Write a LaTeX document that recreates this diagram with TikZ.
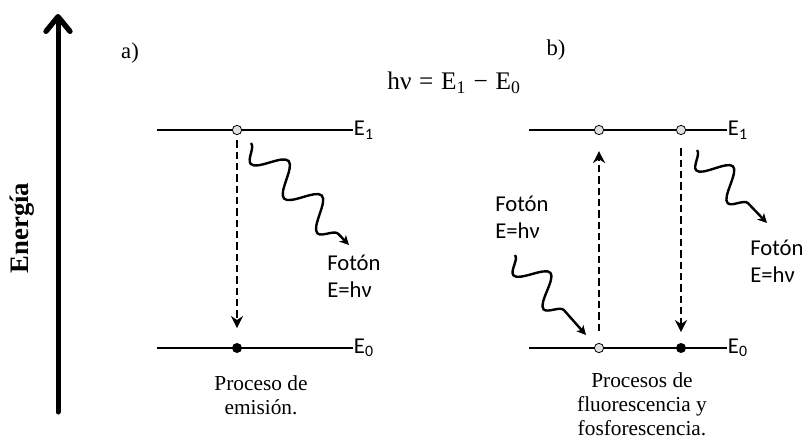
\documentclass[tikz,border=0pt]{standalone}
\usepackage{fontspec}
\setmainfont{Liberation Serif}
\newfontfamily\calibri{Carlito}
\usetikzlibrary{arrows.meta, decorations.pathmorphing}

\begin{document}
\begin{tikzpicture}[
    x=0.75pt, y=-0.75pt,
    font=\fontsize{17}{20}\selectfont,
    level/.style={draw=black, line width=1.4pt},
    levellabel/.style={
        anchor=west, inner sep=0pt,
        font=\calibri\fontsize{17}{20}\selectfont
    },
    hole/.style={
        circle, draw=black, fill=black!12, line width=0.6pt,
        minimum size=7pt, inner sep=0pt
    },
    electron/.style={circle, fill=black, minimum size=7.5pt, inner sep=0pt},
    jump/.style={
        line width=2.1pt, dash pattern=on 5.5pt off 3pt,
        -{Stealth[length=9pt,width=9pt]}
    },
    photon/.style={
        line width=1.8pt, decorate,
        decoration={snake, mirror, segment length=#1, amplitude=11pt, post length=8pt},
        -{Stealth[length=7pt,width=7pt,inset=2pt]}
    },
    photontext/.style={
        anchor=west, align=left, inner sep=0pt,
        font=\calibri\fontsize{17}{20.5}\selectfont
    },
    caption/.style={align=center, font=\fontsize{16}{18}\selectfont}
]

% ---- Page frame (same proportions as the reference) ----
\useasboundingbox (0,0) rectangle (807,439);

% ---- Energy axis ----
\coordinate (ebot) at (58,412);
\coordinate (etop) at (58,14);
\draw[line width=3.75pt, line cap=round, -{Straight Barb[length=11pt,width=18pt,round,line width=4pt]}] (ebot) -- (etop);
\node[rotate=90, font=\fontsize{20}{22}\selectfont\bfseries] (energy) at (22,228) {Energía};

% ---- Panel labels and relation ----
\node (pa) at (130,53) {a)};
\node (pb) at (556,50) {b)};
\node[font=\fontsize{19}{22}\selectfont] (rel) at (454,83)
     {hν\hspace{0.3em}=\hspace{0.3em}E\textsubscript{1}\hspace{0.3em}−\hspace{0.3em}E\textsubscript{0}};

% ---- a) emission: levels ----
\coordinate (aL1) at (157,130);
\coordinate (aR1) at (353,130);
\coordinate (aL0) at (157,348);
\coordinate (aR0) at (353,348);
\draw[level] (aL1) -- (aR1) node[levellabel] (aE1) {E\textsubscript{1}};
\draw[level] (aL0) -- (aR0) node[levellabel] (aE0) {E\textsubscript{0}};

\node[hole]     (aup)   at (237,130) {};
\node[electron] (adown) at (237,348) {};
\draw[jump, shorten <=4pt, shorten >=11pt] (aup) -- (adown);

% ---- a) emitted photon ----
\coordinate (pa0) at (251,143);
\coordinate (pa1) at (349,245);
\draw[photon=36pt] (pa0) -- (pa1);
\node[photontext] (fa) at (327,276) {Fotón\\E=hν};

\node[caption] (capa) at (261,395) {Proceso de\\emisión.};

% ---- b) fluorescence / phosphorescence: levels ----
\coordinate (bL1) at (529,130);
\coordinate (bR1) at (727,130);
\coordinate (bL0) at (529,348);
\coordinate (bR0) at (727,348);
\draw[level] (bL1) -- (bR1) node[levellabel] (bE1) {E\textsubscript{1}};
\draw[level] (bL0) -- (bR0) node[levellabel] (bE0) {E\textsubscript{0}};

\node[hole]     (bup1)   at (599,130) {};
\node[hole]     (bdown1) at (599,348) {};
\node[hole]     (bup2)   at (681,130) {};
\node[electron] (bdown2) at (681,348) {};
\draw[jump, shorten <=9pt, shorten >=12pt] (bdown1) -- (bup1);
\draw[jump, shorten <=10pt, shorten >=8pt] (bup2) -- (bdown2);

% ---- b) absorbed and emitted photons ----
\coordinate (pb0) at (515,255);
\coordinate (pb1) at (586,335);
\draw[photon=34pt] (pb0) -- (pb1);
\node[photontext] (fb) at (495,217) {Fotón\\E=hν};

\coordinate (pc0) at (697,150);
\coordinate (pc1) at (767,223);
\draw[photon=34pt] (pc0) -- (pc1);
\node[photontext] (fc) at (750,261) {Fotón\\E=hν};

\node[caption] (capb) at (642,404) {Procesos de\\fluorescencia y\\fosforescencia.};

\end{tikzpicture}
\end{document}
